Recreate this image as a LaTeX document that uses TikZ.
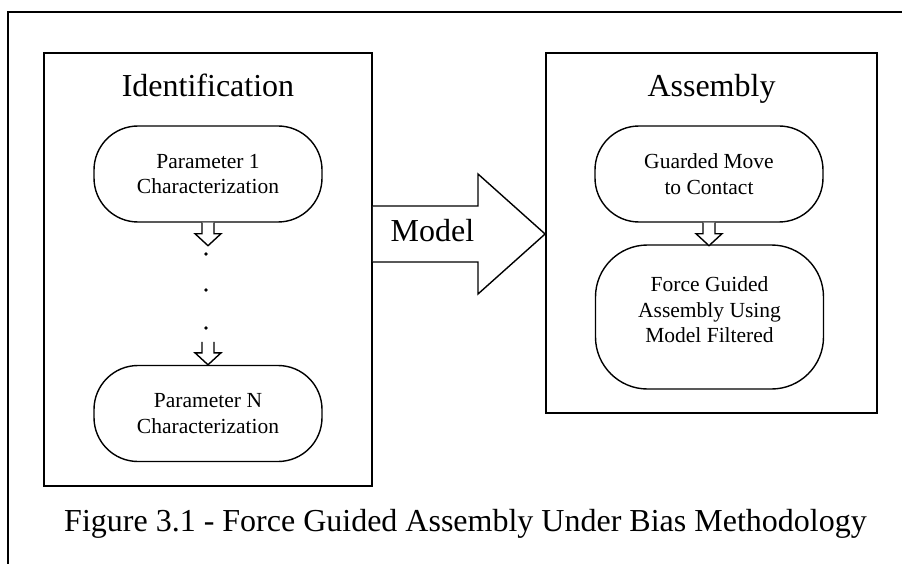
\documentclass[tikz,border=0pt]{standalone}
\usepackage{fontspec}
\setmainfont{Liberation Serif}
\begin{document}
\begin{tikzpicture}[x=1pt,y=-1pt,
  frame/.style={draw=black,line width=1.8pt,inner sep=0pt},
  rbox/.style={draw=black,line width=1.4pt,rounded corners=44pt,inner sep=0pt,
    minimum width=228pt,minimum height=96pt,align=center,
    font=\fontsize{21.5}{25.5}\selectfont},
  boxtext/.style={align=center,inner sep=0pt,font=\fontsize{21.5}{25.5}\selectfont},
  heading/.style={anchor=base,inner sep=0pt,font=\fontsize{32}{38}\selectfont},
  hollow/.style={draw=black,line width=1.4pt,fill=white,line join=miter},
  hollowdown/.pic={
    \path[hollow] (-6,0) -- (-6,11) -- (-13,11) -- (0,23) -- (13,11) -- (6,11) -- (6,0);
  }]
\useasboundingbox (0,0) rectangle (902,564);

% outer frame (open to the right and bottom)
\draw[line width=1.8pt] (902,12) -- (8,12) -- (8,564);

% the two stages
\node[frame,minimum width=328pt,minimum height=433pt] (ident) at (208,269.5) {};
\node[frame,minimum width=331pt,minimum height=360pt] (assem) at (711.5,233) {};

\node[heading] (identlbl) at (208,97) {Identification};
\node[heading] (assemlbl) at (711.5,97) {Assembly};

% identification steps
\node[rbox] (p1) at (208,174) {Parameter 1\\Characterization};
\node[rbox] (pn) at (208,413.5) {Parameter N\\Characterization};

\pic at (p1.south) {hollowdown};
\fill (206,254) circle (1.8pt);
\fill (206,290) circle (1.8pt);
\fill (206,328) circle (1.8pt);
\pic at ([yshift=23pt]pn.north) {hollowdown};

% assembly steps
\node[rbox] (guard) at (709,174) {Guarded Move\\to Contact};
\node[rbox,minimum height=144pt,rounded corners=52pt] (force) at (709.5,317) {};
\node[boxtext,yshift=7pt] (forcetxt) at (force.center) {Force Guided\\Assembly Using\\Model Filtered};
\pic at (guard.south) {hollowdown};

% model hand-over arrow
\path[hollow] (ident.east |- 0,206) -- (478,206) -- (478,174) -- (assem.west |- 0,234)
  -- (478,294) -- (478,262) -- (ident.east |- 0,262);
\node[heading] (model) at (432.5,241) {Model};

% caption
\node[heading] (caption) at (465.5,531) {Figure 3.1 - Force Guided Assembly Under Bias Methodology};
\end{tikzpicture}
\end{document}
